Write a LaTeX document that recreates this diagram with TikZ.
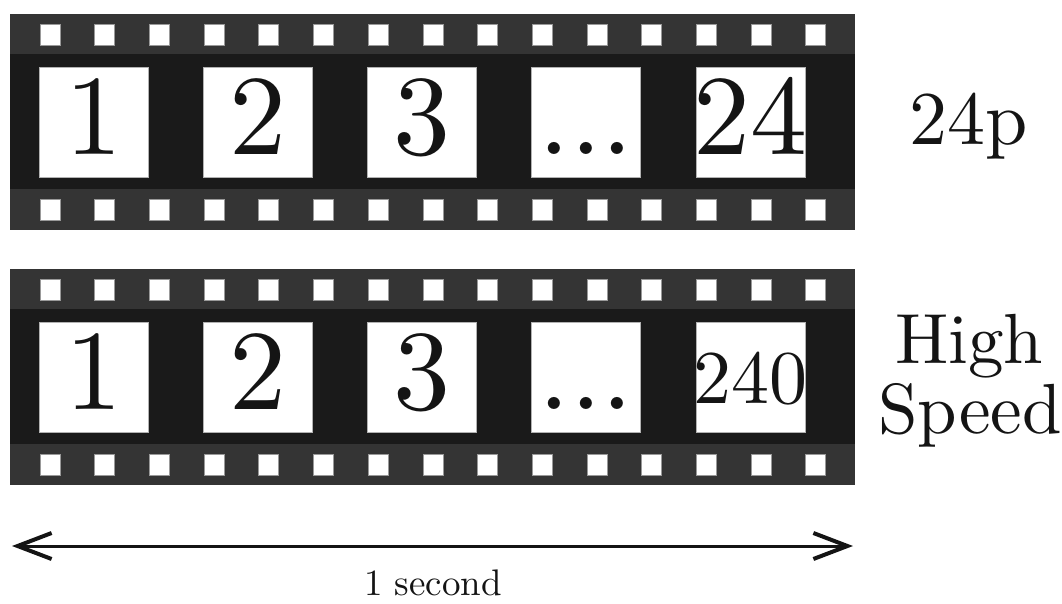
\documentclass[tikz,border=0pt]{standalone}
\usepackage{fontspec}
\setmainfont{lmroman10-regular}[Extension=.otf]
\usetikzlibrary{arrows.meta}
\definecolor{band}{HTML}{343434}
\definecolor{core}{HTML}{1A1A1A}
\definecolor{ink}{HTML}{141414}
\begin{document}
\begin{tikzpicture}[x=1pt,y=-1pt,
  hole/.style={fill=white, draw=black!40, line width=0.7pt,
    minimum width=20pt, minimum height=21pt, inner sep=0pt},
  frame/.style={fill=white, draw=black!30, line width=0.5pt,
    minimum width=109pt, minimum height=110pt, inner sep=0pt},
  numbig/.style={text=ink, inner sep=0pt, anchor=base,
    font=\fontsize{114}{114}\selectfont},
  numsmall/.style={text=ink, inner sep=0pt, anchor=base,
    font=\fontsize{76}{76}\selectfont},
  side/.style={text=ink, inner sep=0pt, anchor=base,
    font=\fontsize{76}{76}\selectfont},
  sidetwo/.style={text=ink, inner sep=0pt, anchor=base,
    font=\fontsize{71}{71}\selectfont},
  caption/.style={text=ink, inner sep=0pt, anchor=base,
    font=\fontsize{37}{37}\selectfont},
  span/.style={draw=ink, line width=3pt,
    {Straight Barb[length=34pt,width=26pt,line width=4pt]}-{Straight Barb[length=34pt,width=26pt,line width=4pt]}}]
\useasboundingbox (0,0) rectangle (1062,603);

% two film strips: sprocket bands, perforations and frames
\foreach \s/\oy in {a/0, b/255} {
  \fill[core] (10,14+\oy) rectangle (855,230+\oy);
  \fill[band] (10,14+\oy) rectangle (855,54+\oy);
  \fill[band] (10,189+\oy) rectangle (855,230+\oy);
  \foreach \i in {0,...,14} {
    \node[hole] (ht\s\i) at ({50+54.7*\i},{34.5+\oy}) {};
    \node[hole] (hb\s\i) at ({50+54.7*\i},{209.5+\oy}) {};
  }
  \foreach \j in {0,...,4}
    \node[frame] (fr\s\j) at ({93.5+164.2*\j},{122+\oy}) {};
}

% frame numbers, 24p strip
\node[numbig] (na1) at (93.5,154) {1};
\node[numbig] (na2) at (257.7,154) {2};
\node[numbig] (na3) at (421.9,154) {3};
\node[numbig] (na4) at (586.1,154) {...};
\node[numbig] (na5) at (750.3,154) {24};

% frame numbers, high speed strip
\node[numbig] (nb1) at (93.5,409) {1};
\node[numbig] (nb2) at (257.7,409) {2};
\node[numbig] (nb3) at (421.9,409) {3};
\node[numbig] (nb4) at (586.1,409) {...};
\node[numsmall] (nb5) at (750.3,403) {240};

% strip labels
\node[side] (rate24) at (969,144) {24p};
\node[sidetwo] (hs1) at (969,363) {High};
\node[sidetwo] (hs2) at (970,433) {Speed};

% duration arrow
\coordinate (tl) at (12,546);
\coordinate (tr) at (853,546);
\draw[span] (tl) -- (tr);
\node[caption] (sec) at (433,595) {1 second};
\end{tikzpicture}
\end{document}
